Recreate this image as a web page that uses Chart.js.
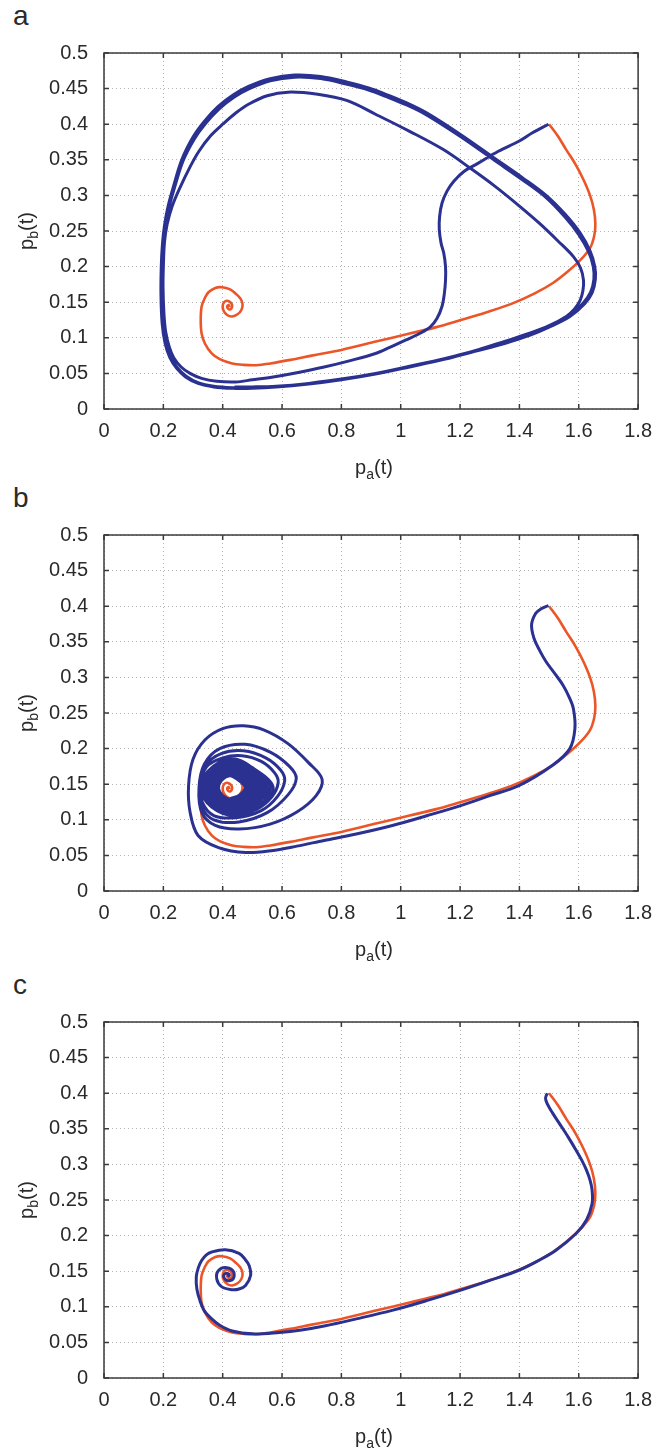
<!DOCTYPE html>
<html>
<head>
<meta charset="utf-8">
<script src="https://cdn.jsdelivr.net/npm/chart.js@4.4.1/dist/chart.umd.min.js"></script>
<style>
  body { margin: 0; background: #fff; }
  #wrap { position: relative; width: 662px; height: 1449px; font-family: "Liberation Sans", Arial, sans-serif; color: #2a2a2a; }
  .panel { position: absolute; left: 0; width: 662px; height: 480px; }
  .panel canvas { position: absolute; left: 0; top: 0; }
  .letter { position: absolute; left: 13px; top: 2px; font-size: 28px; line-height: 28px; }
  .xlab { position: absolute; left: 314px; top: 455px; width: 120px; text-align: center; font-size: 20px; line-height: 24px; }
  .ylab { position: absolute; left: -34px; top: 219px; width: 120px; text-align: center; font-size: 20px; line-height: 24px; transform: rotate(-90deg); }
  sub { font-size: 14px; vertical-align: -5px; line-height: 0; }
</style>
</head>
<body>
<div id="wrap">
  <div class="panel" style="top:0px"><div class="letter">a</div><canvas id="chartA" width="662" height="480"></canvas><div class="ylab">p<sub>b</sub>(t)</div><div class="xlab">p<sub>a</sub>(t)</div></div>
  <div class="panel" style="top:482px"><div class="letter">b</div><canvas id="chartB" width="662" height="480"></canvas><div class="ylab">p<sub>b</sub>(t)</div><div class="xlab">p<sub>a</sub>(t)</div></div>
  <div class="panel" style="top:969px"><div class="letter">c</div><canvas id="chartC" width="662" height="480"></canvas><div class="ylab">p<sub>b</sub>(t)</div><div class="xlab">p<sub>a</sub>(t)</div></div>
</div>
<script>
// tick values
const paTicks = [0, 0.2, 0.4, 0.6, 0.8, 1, 1.2, 1.4, 1.6, 1.8];
const pbTicks = [0, 0.05, 0.1, 0.15, 0.2, 0.25, 0.3, 0.35, 0.4, 0.45, 0.5];

// red trajectory (same in all three panels), [pa, pb]
const orangeTrack = [
  [1.5,0.4],[1.53,0.383],[1.558,0.364],[1.59,0.343],[1.616,0.322],[1.638,0.3],[1.651,0.28],[1.656,0.26],
  [1.652,0.243],[1.638,0.226],[1.605,0.209],[1.56,0.192],[1.513,0.177],[1.45,0.162],[1.375,0.148],[1.29,0.136],
  [1.202,0.125],[1.12,0.115],[1.03,0.106],[0.92,0.095],[0.8,0.083],[0.7,0.075],[0.628,0.069],[0.56,0.064],
  [0.513,0.0615],[0.47,0.062],[0.432,0.064],[0.39,0.07],[0.363,0.078],[0.34,0.092],[0.329,0.106],[0.326,0.125],
  [0.329,0.144],[0.34,0.156],[0.352,0.164],[0.375,0.17],[0.398,0.171],[0.425,0.168],[0.444,0.162],[0.46,0.155],
  [0.467,0.147],[0.463,0.139],[0.45,0.133],[0.432,0.13],[0.415,0.132],[0.403,0.138],[0.4,0.145],[0.405,0.15],
  [0.415,0.152],[0.428,0.149],[0.432,0.144],[0.426,0.14],[0.418,0.141],[0.415,0.144],[0.42,0.146],[0.423,0.143]
];

// blue trajectory, panel a
const blueTrackA = [
  [1.498,0.4],[1.444,0.388],[1.398,0.376],[1.329,0.362],[1.26,0.345],[1.214,0.334],[1.179,0.32],[1.156,0.306],
  [1.139,0.289],[1.131,0.27],[1.13,0.252],[1.136,0.233],[1.145,0.219],[1.151,0.2],[1.151,0.181],[1.147,0.162],
  [1.139,0.144],[1.122,0.127],[1.099,0.115],[1.059,0.105],[1.018,0.097],[0.965,0.087],[0.915,0.078],[0.83,0.068],
  [0.742,0.059],[0.65,0.051],[0.57,0.045],[0.5,0.041],[0.444,0.038],[0.38,0.039],[0.329,0.043],[0.29,0.05],
  [0.26,0.059],[0.235,0.072],[0.22,0.087],[0.208,0.108],[0.202,0.134],[0.199,0.17],[0.2,0.2],[0.204,0.235],
  [0.213,0.26],[0.23,0.285],[0.253,0.308],[0.29,0.34],[0.32,0.362],[0.36,0.384],[0.403,0.401],[0.445,0.416],
  [0.487,0.428],[0.55,0.44],[0.62,0.445],[0.72,0.442],[0.82,0.433],[0.915,0.414],[1.03,0.39],[1.145,0.364],
  [1.235,0.338],[1.317,0.313],[1.4,0.285],[1.467,0.261],[1.53,0.236],[1.582,0.214],[1.606,0.198],[1.616,0.181],
  [1.614,0.166],[1.605,0.153],[1.585,0.14],[1.558,0.13],[1.5,0.117],[1.432,0.106],[1.35,0.095],[1.26,0.083],
  [1.15,0.071],[1.03,0.06],[0.915,0.05],[0.8,0.042],[0.69,0.036],[0.58,0.031],[0.5,0.029],[0.432,0.029],
  [0.37,0.031],[0.317,0.036],[0.275,0.045],[0.245,0.057],[0.222,0.072],[0.206,0.092],[0.196,0.12],[0.192,0.16],
  [0.193,0.2],[0.197,0.232],[0.204,0.258],[0.215,0.283],[0.231,0.308],[0.262,0.35],[0.3,0.382],[0.338,0.404],
  [0.385,0.425],[0.435,0.441],[0.487,0.453],[0.56,0.464],[0.642,0.469],[0.73,0.467],[0.82,0.459],[0.892,0.451],
  [0.95,0.442],[1.02,0.43],[1.087,0.416],[1.2,0.386],[1.317,0.352],[1.41,0.325],[1.49,0.3],[1.555,0.273],
  [1.605,0.247],[1.638,0.222],[1.654,0.2],[1.656,0.182],[1.645,0.163],[1.62,0.148],[1.57,0.13],[1.5,0.115],
  [1.432,0.103],[1.35,0.092],[1.25,0.081],[1.15,0.07],[1.03,0.059],[0.915,0.049],[0.8,0.041],[0.69,0.035],
  [0.58,0.031],[0.5,0.03],[0.432,0.03],[0.37,0.032],[0.317,0.037],[0.277,0.046],[0.247,0.058],[0.224,0.073],
  [0.208,0.093],[0.198,0.12],[0.195,0.16],[0.196,0.2],[0.2,0.232],[0.207,0.258],[0.219,0.283],[0.235,0.307],
  [0.266,0.348],[0.304,0.379],[0.342,0.401],[0.389,0.422],[0.438,0.438],[0.49,0.45],[0.56,0.461],[0.642,0.466],
  [0.73,0.464],[0.82,0.456],[0.892,0.448],[0.95,0.439],[1.02,0.427],[1.087,0.413],[1.2,0.383],[1.317,0.349],
  [1.41,0.322],[1.49,0.297],[1.553,0.27],[1.6,0.245],[1.633,0.221],[1.649,0.2],[1.651,0.182],[1.64,0.164],
  [1.615,0.149],[1.567,0.131],[1.5,0.116],[1.432,0.104],[1.35,0.093],[1.25,0.082],[1.15,0.071],[1.03,0.06],
  [0.915,0.05],[0.8,0.042],[0.69,0.036],[0.58,0.032],[0.5,0.031],[0.44,0.031]
];

// blue trajectory, panel b
const blueTrackB = [
  [1.498,0.401],[1.472,0.396],[1.455,0.39],[1.441,0.374],[1.449,0.355],[1.468,0.338],[1.49,0.322],[1.52,0.305],
  [1.547,0.289],[1.568,0.272],[1.582,0.256],[1.587,0.228],[1.57,0.2],[1.513,0.177],[1.398,0.148],[1.3,0.134],
  [1.202,0.12],[1.09,0.106],[0.972,0.092],[0.85,0.08],[0.742,0.071],[0.65,0.063],[0.57,0.057],[0.478,0.054],
  [0.386,0.061],[0.317,0.078],[0.29,0.111],[0.285,0.148],[0.3,0.185],[0.34,0.212],[0.4,0.228],[0.47,0.232],
  [0.54,0.226],[0.62,0.207],[0.69,0.18],[0.735,0.157],[0.715,0.134],[0.65,0.111],[0.56,0.094],[0.455,0.087],
  [0.375,0.092],[0.33,0.11],[0.32,0.144],[0.338,0.178],[0.39,0.2],[0.476,0.206],[0.56,0.195],[0.625,0.175],
  [0.648,0.158],[0.62,0.135],[0.55,0.11],[0.455,0.097],
  [0.37,0.1],[0.33,0.118],[0.323,0.146],[0.342,0.176],[0.395,0.193],[0.47,0.197],[0.545,0.187],[0.595,0.17],
  [0.609,0.155],[0.585,0.133],[0.53,0.113],[0.445,0.103],
  [0.37,0.106],[0.332,0.124],[0.325,0.148],[0.345,0.174],[0.4,0.187],[0.465,0.19],[0.53,0.182],[0.575,0.166],
  [0.587,0.152],[0.565,0.132],[0.515,0.115],
  [0.436,0.106],[0.363,0.118],[0.326,0.142],[0.35,0.168],[0.428,0.186],[0.497,0.174],[0.57,0.146],[0.521,0.12],
  [0.435,0.109],[0.366,0.12],[0.332,0.143],[0.355,0.168],[0.428,0.184],[0.492,0.173],[0.56,0.147],[0.514,0.123],
  [0.434,0.111],[0.371,0.122],[0.339,0.143],[0.36,0.166],[0.428,0.181],[0.487,0.171],[0.55,0.146],[0.508,0.124],
  [0.433,0.113],[0.374,0.123],[0.345,0.143],[0.365,0.164],[0.427,0.179],[0.482,0.169],[0.54,0.146],[0.501,0.125],
  [0.432,0.115],[0.378,0.124],[0.351,0.143],[0.369,0.163],[0.426,0.177],[0.476,0.168],[0.53,0.146],[0.494,0.126],
  [0.431,0.117],[0.382,0.126],[0.357,0.143],[0.373,0.162],[0.426,0.175],[0.472,0.166],[0.521,0.146],[0.488,0.127],
  [0.43,0.119],[0.385,0.127],[0.363,0.143],[0.378,0.16],[0.426,0.172],[0.467,0.164],[0.512,0.146],[0.482,0.129],
  [0.429,0.121],[0.388,0.128],[0.368,0.143],[0.382,0.159],[0.425,0.17],[0.463,0.163],[0.503,0.146],[0.476,0.13],
  [0.428,0.123],[0.391,0.13],[0.373,0.143],[0.385,0.158],[0.424,0.168],[0.458,0.161],[0.495,0.146],[0.471,0.131],
  [0.428,0.125],[0.395,0.131],[0.378,0.143],[0.389,0.157],[0.424,0.166],[0.455,0.16],[0.488,0.146],[0.466,0.132],
  [0.427,0.127],[0.397,0.133],[0.382,0.144],[0.392,0.156],[0.424,0.164],[0.451,0.158],[0.481,0.146],[0.461,0.134],
  [0.427,0.129],[0.4,0.134],[0.386,0.144],[0.395,0.155],[0.424,0.162],[0.449,0.157],[0.476,0.146],[0.458,0.135],[0.427,0.13]
];

// blue trajectory, panel c
const blueTrackC = [
  [1.494,0.4],[1.488,0.393],[1.494,0.385],[1.512,0.372],[1.534,0.358],[1.565,0.338],[1.591,0.32],[1.61,0.306],
  [1.626,0.292],[1.638,0.278],[1.645,0.264],[1.645,0.245],[1.626,0.222],[1.591,0.203],[1.522,0.179],[1.46,0.164],
  [1.396,0.151],[1.3,0.137],[1.2,0.123],[1.09,0.109],[0.971,0.095],[0.85,0.083],[0.742,0.073],[0.66,0.067],
  [0.592,0.064],[0.5,0.062],[0.432,0.066],[0.39,0.074],[0.363,0.083],[0.337,0.095],[0.323,0.109],[0.313,0.125],
  [0.311,0.142],[0.318,0.155],[0.329,0.165],[0.345,0.173],[0.363,0.177],[0.409,0.18],[0.455,0.175],[0.475,0.167],
  [0.489,0.158],[0.494,0.144],[0.477,0.13],[0.455,0.125],[0.432,0.124],[0.397,0.128],[0.38,0.139],[0.386,0.151],
  [0.414,0.155],[0.437,0.149],[0.435,0.139],[0.414,0.137],[0.403,0.143],[0.411,0.147],[0.422,0.145],[0.418,0.142]
];

const panelTracks = [
  { id: 'chartA', blue: blueTrackA },
  { id: 'chartB', blue: blueTrackB },
  { id: 'chartC', blue: blueTrackC }
];

// box and inward tick marks, matlab style
const boxTicks = {
  id: 'boxTicks',
  afterDatasetsDraw(chart) {
    const { ctx, chartArea: a, scales: { x, y } } = chart;
    ctx.save();
    ctx.strokeStyle = '#3a3a3a';
    ctx.lineWidth = 1.5;
    ctx.strokeRect(a.left, a.top, a.right - a.left, a.bottom - a.top);
    ctx.beginPath();
    paTicks.forEach(v => {
      const px = x.getPixelForValue(v);
      ctx.moveTo(px, a.bottom); ctx.lineTo(px, a.bottom - 5);
      ctx.moveTo(px, a.top); ctx.lineTo(px, a.top + 5);
    });
    pbTicks.forEach(v => {
      const py = y.getPixelForValue(v);
      ctx.moveTo(a.left, py); ctx.lineTo(a.left + 5, py);
      ctx.moveTo(a.right, py); ctx.lineTo(a.right - 5, py);
    });
    ctx.stroke();
    ctx.restore();
  }
};

const tickFont = { family: '"Liberation Sans", Arial, sans-serif', size: 20 };
const fmt = v => String(Math.round(v * 100) / 100);

panelTracks.forEach(p => {
  new Chart(document.getElementById(p.id), {
    type: 'scatter',
    data: {
      datasets: [
        // blue first so it is drawn over the red one
        {
          data: p.blue.map(([x, y]) => ({ x, y })),
          showLine: true, borderColor: '#2b3190', borderWidth: 3,
          pointRadius: 0, tension: 0.35
        },
        {
          data: orangeTrack.map(([x, y]) => ({ x, y })),
          showLine: true, borderColor: '#ec5527', borderWidth: 2.6,
          pointRadius: 0, tension: 0.35
        }
      ]
    },
    options: {
      responsive: false,
      animation: false,
      devicePixelRatio: 1,
      layout: { padding: { top: 53, right: 18, bottom: 0, left: 0 } },
      plugins: { legend: { display: false }, tooltip: { enabled: false } },
      scales: {
        x: {
          type: 'linear', min: 0, max: 1.8,
          afterBuildTicks: s => { s.ticks = paTicks.map(v => ({ value: v })); },
          afterFit: s => { s.height = 71; },
          ticks: { font: tickFont, color: '#2a2a2a', padding: 10, maxRotation: 0, callback: fmt },
          grid: { color: '#b4b4b4', lineWidth: 1, drawTicks: false },
          border: { display: false, dash: [1, 3] }
        },
        y: {
          type: 'linear', min: 0, max: 0.5,
          afterBuildTicks: s => { s.ticks = pbTicks.map(v => ({ value: v })); },
          afterFit: s => { s.width = 104; },
          ticks: { font: tickFont, color: '#2a2a2a', padding: 16, callback: fmt },
          grid: { color: '#b4b4b4', lineWidth: 1, drawTicks: false },
          border: { display: false, dash: [1, 3] }
        }
      }
    },
    plugins: [boxTicks]
  });
});
</script>
</body>
</html>
